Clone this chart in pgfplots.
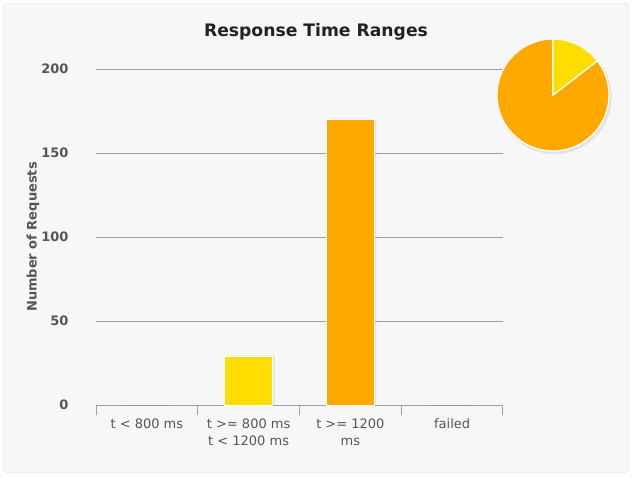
\documentclass[border=0pt]{standalone}
\usepackage{pgfplots}
\pgfplotsset{compat=1.18}
\usepackage{fontspec}
\setmainfont{DejaVu Sans}
\definecolor{panelbg}{HTML}{F7F7F7}
\definecolor{panelborder}{HTML}{DDDDDD}
\definecolor{gyellow}{HTML}{FFDD00}
\definecolor{gorange}{HTML}{FFA900}
\definecolor{gridc}{HTML}{A0A0A0}
\definecolor{txt}{HTML}{555555}
\definecolor{ttl}{HTML}{222222}
\begin{document}
\begin{tikzpicture}
\fill[white] (0pt,0pt) rectangle (632pt,477pt);
\filldraw[fill=panelbg, draw=panelborder, rounded corners=3pt] (3.5pt,4.5pt) rectangle (628.5pt,473.5pt);
\node[font=\bfseries\fontsize{17.2}{20}\selectfont, text=ttl] at (316pt,445pt) {Response Time Ranges};
\begin{axis}[
  at={(96pt,72pt)}, anchor=south west, scale only axis,
  width=407pt, height=336pt,
  xmin=-0.5, xmax=3.5, ymin=0, ymax=200,
  /pgf/number format/assume math mode=true,
  axis line style={-},
  axis x line*=bottom, axis y line*=left,
  y axis line style={draw=none},
  x axis line style={draw=gridc, line width=1pt},
  ytick={0,50,100,150,200},
  ytick style={draw=none},
  yticklabel style={font=\bfseries\fontsize{13}{15}\selectfont, text=txt, xshift=-14pt},
  ymajorgrids,
  major grid style={draw=gridc, line width=0.8pt},
  xtick={-0.5,0.5,1.5,2.5,3.5},
  xticklabels={},
  tick align=outside,
  major tick length=10pt,
  xtick style={draw=gridc, line width=1pt},
  extra x ticks={0,1,2,3},
  extra x tick labels={{t < 800 ms},{t >= 800 ms\\t < 1200 ms},{t >= 1200\\ms},{failed}},
  extra x tick style={major tick length=0pt, xticklabel style={font=\fontsize{13}{17}\selectfont, text=txt, align=center, anchor=north, yshift=-10pt}},
  ylabel={Number of Requests},
  ylabel style={font=\bfseries\fontsize{13}{15}\selectfont, text=txt, at={(axis description cs:-0.1548,0.5)}, rotate=0, anchor=center},
  clip=false,
]
% shadows
\addplot[ybar, bar width=48pt, bar shift=2pt, fill=black, draw=none, opacity=0.07] coordinates {(1,29.5) (2,170.5)};
\addplot[ybar, bar width=48pt, bar shift=0pt, fill=green!50!black, draw=none] coordinates {(0,0)};
\addplot[ybar, bar width=48pt, bar shift=0pt, fill=gyellow, draw=white, line width=1pt] coordinates {(1,29)};
\addplot[ybar, bar width=48pt, bar shift=0pt, fill=gorange, draw=white, line width=1pt] coordinates {(2,170)};
\addplot[ybar, bar width=48pt, bar shift=0pt, fill=red, draw=none] coordinates {(3,0)};
\end{axis}
\begin{axis}[
  at={(553pt,382pt)}, anchor=center, scale only axis,
  width=112pt, height=112pt, hide axis,
  xmin=-1, xmax=1, ymin=-1, ymax=1, clip=false,
]
\pgfmathsetmacro\total{0+29+170+0}
\pgfmathsetmacro\aY{360*29/\total}
\fill[black, opacity=0.08] (axis cs:0.03,-0.04) circle[radius=57pt];
\filldraw[fill=gorange, draw=white, line width=1.2pt] (axis cs:0,0) -- ++(90-\aY:56pt) arc[start angle=90-\aY, end angle=-270, radius=56pt] -- cycle;
\filldraw[fill=gyellow, draw=white, line width=1.2pt] (axis cs:0,0) -- ++(90:56pt) arc[start angle=90, end angle=90-\aY, radius=56pt] -- cycle;
\end{axis}
\pgfresetboundingbox
\useasboundingbox (0pt,0pt) rectangle (632pt,477pt);
\end{tikzpicture}
\end{document}
